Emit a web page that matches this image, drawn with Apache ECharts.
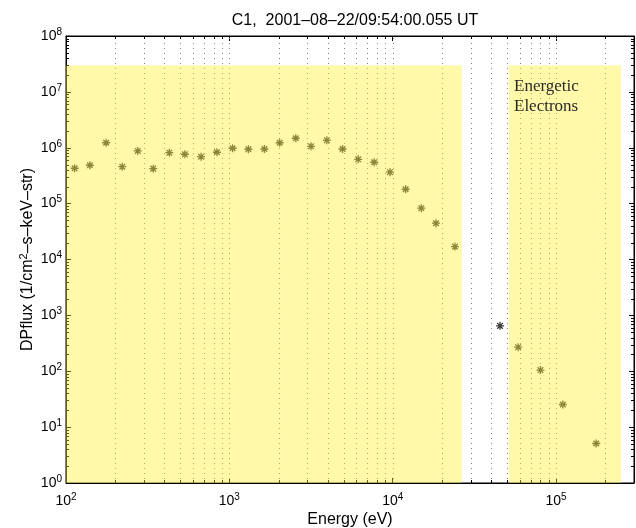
<!DOCTYPE html>
<html><head><meta charset="utf-8">
<script src="https://cdn.jsdelivr.net/npm/echarts@6/dist/echarts.min.js"></script>
<style>html,body{margin:0;padding:0;background:#fff}#c{width:636px;height:528px}</style>
</head><body><div id="c"></div>
<script>
// ---- data ----
const energies = [113, 140, 176, 221, 275, 342, 429, 534, 671, 839, 1047, 1308, 1639, 2033, 2550, 3162, 3951, 4930, 6145, 7700, 9620, 12000, 14960, 18400, 24050, 45400, 58600, 80200, 110000, 176200];
const fluxes = [4.3e5, 4.86e5, 1.23e6, 4.59e5, 8.77e5, 4.23e5, 8.17e5, 7.65e5, 6.93e5, 8.3e5, 9.8e5, 9.4e5, 9.5e5, 1.23e6, 1.48e6, 1.06e6, 1.36e6, 9.5e5, 6.2e5, 5.5e5, 3.65e5, 1.81e5, 8.28e4, 4.46e4, 1.70e4, 649, 270, 105, 25.4, 5.09];
const xRange = [100, 3e5];
const yRange = [1, 1e8];
const xMajorTicks = [100, 1000, 10000, 100000];
const yMajorTicks = [1, 10, 100, 1000, 10000, 100000, 1e6, 1e7, 1e8];
const xMinorTicks = [200, 300, 400, 500, 600, 700, 800, 900, 2000, 3000, 4000, 5000, 6000, 7000, 8000, 9000, 20000, 30000, 40000, 50000, 60000, 70000, 80000, 90000, 200000];
const xGridLines = [200, 300, 400, 500, 600, 700, 800, 900, 1000, 2000, 3000, 4000, 5000, 6000, 7000, 8000, 9000, 10000, 20000, 30000, 40000, 50000, 60000, 70000, 80000, 90000, 100000, 200000];
const yMinorTicks = [2, 3, 4, 5, 6, 7, 8, 9, 20, 30, 40, 50, 60, 70, 80, 90, 200, 300, 400, 500, 600, 700, 800, 900, 2000, 3000, 4000, 5000, 6000, 7000, 8000, 9000, 2e4, 3e4, 4e4, 5e4, 6e4, 7e4, 8e4, 9e4, 2e5, 3e5, 4e5, 5e5, 6e5, 7e5, 8e5, 9e5, 2e6, 3e6, 4e6, 5e6, 6e6, 7e6, 8e6, 9e6, 2e7, 3e7, 4e7, 5e7, 6e7, 7e7, 8e7, 9e7];
// energy bands: [xStart, xEnd, yBottom, yTop]
const bands = [[100, 26500, 1, 3e7], [51500, 250000, 1, 3e7]];
const bandLabel = 'Energetic\nElectrons';
const titleText = 'C1,  2001\u201308\u201322/09:54:00.055 UT';
const xName = 'Energy (eV)';
const yName = 'DPflux (1/cm{s|2}\u2013s\u2013keV\u2013str)';

// ---- chart ----
const FONT = 'Liberation Sans';
const chart = echarts.init(document.getElementById('c'), null, {renderer: 'canvas'});

function powLabel(v) {
  const e = Math.log10(v);
  if (Math.abs(e - Math.round(e)) > 1e-6) return '';
  return '{b|10}{s|' + Math.round(e) + '}';
}
const labelRich = {
  b: {fontSize: 14, fontFamily: FONT, color: '#000'},
  s: {fontSize: 10, fontFamily: FONT, color: '#000', verticalAlign: 'top', padding: [0, 0, 8, 0]}
};

function xTickItem(params, api) {
  const cs = params.coordSys;
  const x = Math.round(api.coord([api.value(0), 1])[0]) + 0.5;
  const top = cs.y, bot = cs.y + cs.height;
  return {type: 'group', children: [
    {type: 'line', shape: {x1: x, y1: bot, x2: x, y2: bot - 3}, style: {stroke: '#000', lineWidth: 1}},
    {type: 'line', shape: {x1: x, y1: top, x2: x, y2: top + 3}, style: {stroke: '#000', lineWidth: 1}}
  ]};
}
function xGridItem(params, api) {
  const cs = params.coordSys;
  const x = Math.round(api.coord([api.value(0), 1])[0]) + 0.5;
  return {type: 'line', shape: {x1: x, y1: cs.y + 2, x2: x, y2: cs.y + cs.height}, style: {stroke: '#808080', lineWidth: 1, lineDash: [1, 4]}};
}
function yTickItem(params, api) {
  const cs = params.coordSys;
  const y = Math.round(api.coord([1000, api.value(1)])[1]) + 0.5;
  const l = cs.x, r = cs.x + cs.width;
  return {type: 'group', children: [
    {type: 'line', shape: {x1: l, y1: y, x2: l + 3, y2: y}, style: {stroke: '#000', lineWidth: 1}},
    {type: 'line', shape: {x1: r, y1: y, x2: r - 3, y2: y}, style: {stroke: '#000', lineWidth: 1}}
  ]};
}
function bandItem(params, api) {
  const p0 = api.coord([api.value(0), api.value(3)]);
  const p1 = api.coord([api.value(1), api.value(2)]);
  return {type: 'rect', shape: {x: p0[0], y: p0[1], width: p1[0] - p0[0], height: p1[1] - p0[1]},
    style: {fill: 'rgba(255,240,40,0.40)'}};
}

const axisCommon = {
  type: 'log', logBase: 10,
  axisLine: {show: true, lineStyle: {color: '#000', width: 1}},
  axisTick: {show: true, inside: true, length: 5, lineStyle: {color: '#000'}},
  splitLine: {show: false},
  minorTick: {show: false}
};

const option = {
  backgroundColor: '#fff',
  animation: false,
  title: {text: titleText, left: 350, textAlign: 'center', top: 8,
    textStyle: {fontFamily: FONT, fontSize: 16, fontWeight: 'normal', color: '#000'}},
  grid: {left: 66, right: 2, top: 36, bottom: 45, show: true, borderColor: '#000', borderWidth: 1,
    backgroundColor: 'transparent', containLabel: false, outerBoundsMode: 'none'},
  xAxis: [
    Object.assign({}, axisCommon, {position: 'bottom', min: xRange[0], max: xRange[1],
      name: xName, nameLocation: 'middle', nameGap: 29, nameMoveOverlap: false,
      nameTextStyle: {fontFamily: FONT, fontSize: 16, color: '#000'},
      axisLabel: {show: true, margin: 9, formatter: powLabel, rich: labelRich}}),
    Object.assign({}, axisCommon, {position: 'top', min: xRange[0], max: xRange[1], axisLabel: {show: false}})
  ],
  yAxis: [
    Object.assign({}, axisCommon, {position: 'left', min: yRange[0], max: yRange[1],
      name: yName, nameLocation: 'middle', nameGap: 28, nameMoveOverlap: false,
      nameTextStyle: {fontFamily: FONT, fontSize: 16, color: '#000',
        rich: {s: {fontSize: 11, fontFamily: FONT, color: '#000', verticalAlign: 'top', padding: [0, 0, 9, 0]}}},
      axisLabel: {show: true, margin: 4, formatter: powLabel, rich: labelRich}}),
    Object.assign({}, axisCommon, {position: 'right', min: yRange[0], max: yRange[1], axisLabel: {show: false}})
  ],
  series: [
    {type: 'custom', name: 'grid', renderItem: xGridItem, z: 1, silent: true,
      data: xGridLines.map(v => [v, 1])},
    {type: 'custom', name: 'xminor', renderItem: xTickItem, z: 1, silent: true,
      data: xMinorTicks.map(v => [v, 1])},
    {type: 'custom', name: 'yminor', renderItem: yTickItem, z: 1, silent: true,
      data: yMinorTicks.map(v => [1000, v])},
    {type: 'scatter', name: 'flux', z: 2, silent: true,
      symbol: 'path://M5,0L5,10M0,5L10,5M1.5,1.5L8.5,8.5M1.5,8.5L8.5,1.5',
      symbolSize: 8,
      itemStyle: {color: 'rgba(0,0,0,0)', borderColor: '#111', borderWidth: 1.3},
      data: energies.map((e, i) => [e, fluxes[i]])},
    {type: 'custom', name: 'bands', renderItem: bandItem, z: 3, silent: true,
      encode: {x: [0, 1], y: [2, 3]},
      data: bands}
  ],
  graphic: [
    {type: 'text', left: 514, top: 77, z: 10,
      style: {text: bandLabel, font: '17px "Liberation Serif"', fill: '#2a2a2a', lineHeight: 20}}
  ]
};
chart.setOption(option);
</script>
</body></html>
